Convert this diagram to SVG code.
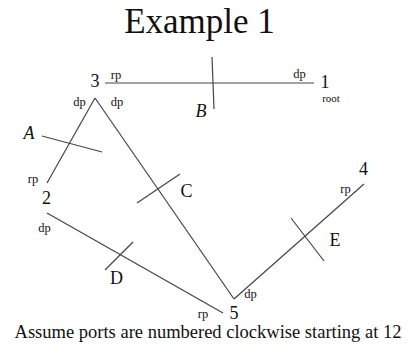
<svg xmlns="http://www.w3.org/2000/svg" width="414" height="356" viewBox="0 0 414 356">
<style>
text{font-family:"Liberation Serif","Times New Roman",serif;fill:#111}
.n{font-size:18px;text-anchor:middle}
.s{font-size:12.5px;text-anchor:middle}
.l{font-size:18px;text-anchor:middle}
.i{font-style:italic}
line{stroke:#444;stroke-width:1.2;fill:none}
</style>
<rect width="414" height="356" fill="#fff"/>
<text x="199.5" y="33" style="font-size:35px;text-anchor:middle">Example 1</text>
<g id="connectors">
<line x1="105" y1="83" x2="314" y2="83"/>
<line x1="95" y1="98" x2="47" y2="183"/>
<line x1="95" y1="98" x2="234" y2="299"/>
<line x1="47" y1="213" x2="223" y2="313"/>
<line x1="234" y1="299" x2="364" y2="184"/>
</g>
<g id="cuts">
<g id="cut-A"><line x1="42" y1="136" x2="102" y2="152"/><text class="l i" x="29" y="139">A</text></g>
<g id="cut-B"><line x1="212" y1="57" x2="214" y2="109"/><text class="l i" x="201" y="117">B</text></g>
<g id="cut-C"><line x1="137" y1="203" x2="180" y2="174"/><text class="l" x="186.5" y="197">C</text></g>
<g id="cut-D"><line x1="105" y1="270" x2="133" y2="242"/><text class="l" x="116.5" y="284">D</text></g>
<g id="cut-E"><line x1="291" y1="218" x2="324" y2="261"/><text class="l" x="335" y="246">E</text></g>
</g>
<g id="node-1"><text class="n" x="325" y="88">1</text><text class="s" x="331" y="102" style="font-size:11px">root</text><text class="s" x="299.5" y="78">dp</text></g>
<g id="node-2"><text class="n" x="46.5" y="204">2</text><text class="s" x="33" y="183">rp</text><text class="s" x="44.5" y="232">dp</text></g>
<g id="node-3"><text class="n" x="95" y="87">3</text><text class="s" x="116" y="79">rp</text><text class="s" x="79.5" y="106">dp</text><text class="s" x="117" y="106">dp</text></g>
<g id="node-4"><text class="n" x="363.5" y="175">4</text><text class="s" x="345.5" y="193">rp</text></g>
<g id="node-5"><text class="n" x="234" y="319">5</text><text class="s" x="203" y="318">rp</text><text class="s" x="250.5" y="298">dp</text></g>
<text x="208" y="338" style="font-size:18.5px;text-anchor:middle">Assume ports are numbered clockwise starting at 12</text>
</svg>
